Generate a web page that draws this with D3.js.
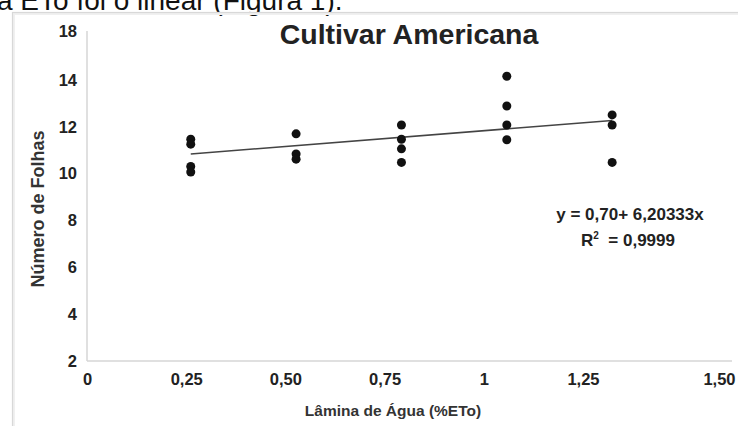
<!DOCTYPE html>
<html><head><meta charset="utf-8">
<script src="https://cdn.jsdelivr.net/npm/d3@7"></script>
<style>
html,body{margin:0;padding:0;background:#fff;overflow:hidden;}
svg{display:block;font-family:"Liberation Sans",Arial,sans-serif;}
</style></head>
<body>
<script>
// ---- data ----
const laminas = [0.25, 0.50, 0.75, 1.00, 1.25];
const folhas = [
  [11.47, 11.26, 10.31, 10.07],
  [11.70, 10.84, 10.62],
  [12.08, 11.47, 11.06, 10.48],
  [14.31, 12.89, 12.08, 11.45],
  [12.51, 12.08, 10.48]
];
const trendX = [0.25, 1.25];
const trendY = [10.84, 12.27];
const yTicks = [2, 4, 6, 8, 10, 12, 14, 18];
const xTicks = [0, 0.25, 0.50, 0.75, 1, 1.25, 1.50];
const xTickLabels = ["0", "0,25", "0,50", "0,75", "1", "1,25", "1,50"];
const titleText = "Cultivar Americana";
const xTitle = "Lâmina de Água (%ETo)";
const yTitle = "Número de Folhas";
const eqText = "y = 0,70+ 6,20333x";
const r2Text = "0,9999";
const topText = "a ETo foi o linear (Figura 1).";

const W = 738, H = 426;
const FONT = "Liberation Sans, Arial, sans-serif";
const svg = d3.select("body").append("svg").attr("width", W).attr("height", H);

// page text cut at top
svg.append("text").attr("x", -3).attr("y", 10).attr("font-size", 28)
  .attr("fill", "#111").text(topText);

// figure box
svg.append("rect").attr("x", 13.5).attr("y", 13.5).attr("width", 740).attr("height", 430)
  .attr("fill", "none").attr("stroke", "#f0f0f0").attr("stroke-width", 3);
svg.append("rect").attr("x", 12.5).attr("y", 12.5).attr("width", 740).attr("height", 430)
  .attr("fill", "none").attr("stroke", "#d8d8d8").attr("stroke-width", 1.2);

// scales
const x = d3.scaleLinear().domain([0, 1.5]).range([85.4, 717.5]);
const xLab = d3.scaleLinear().domain([0, 1.25, 1.5]).range([87, 583, 719]);
const y = d3.scaleLinear().domain([2, 14, 18]).range([361, 80, 31]);

// axis lines
svg.append("line").attr("x1", 87).attr("x2", 87).attr("y1", y(18)).attr("y2", y(2))
  .attr("stroke", "#d6d6d6").attr("stroke-width", 1.5);
svg.append("line").attr("x1", 87).attr("x2", 732).attr("y1", y(2)).attr("y2", y(2))
  .attr("stroke", "#d6d6d6").attr("stroke-width", 1.5);

// y axis labels
const yAxis = d3.axisLeft(y).tickValues(yTicks).tickSize(0).tickPadding(10).tickFormat(d => d);
const gy = svg.append("g").attr("transform", "translate(87,0)").call(yAxis);
gy.select(".domain").remove();
gy.selectAll("text").attr("font-size", 16.5).attr("font-weight", "bold").attr("fill", "#222")
  .attr("font-family", FONT);

// x axis labels
const xAxis = d3.axisBottom(xLab).tickValues(xTicks).tickSize(0).tickPadding(12)
  .tickFormat((d, i) => xTickLabels[i]);
const gx = svg.append("g").attr("transform", `translate(0,${y(2)})`).call(xAxis);
gx.select(".domain").remove();
gx.selectAll("text").attr("font-size", 16.5).attr("font-weight", "bold").attr("fill", "#222")
  .attr("font-family", FONT);

// titles
svg.append("text").attr("x", 409).attr("y", 44).attr("text-anchor", "middle")
  .attr("font-size", 28.5).attr("font-weight", "bold").attr("fill", "#222").text(titleText);
svg.append("text").attr("x", 393).attr("y", 416).attr("text-anchor", "middle")
  .attr("font-size", 15.5).attr("font-weight", "bold").attr("fill", "#333").text(xTitle);
svg.append("text").attr("transform", "translate(44,209) rotate(-90)").attr("text-anchor", "middle")
  .attr("font-size", 18).attr("font-weight", "bold").attr("fill", "#333").text(yTitle);

// trend line
svg.append("line").attr("x1", x(trendX[0])).attr("y1", y(trendY[0]))
  .attr("x2", x(trendX[1])).attr("y2", y(trendY[1]))
  .attr("stroke", "#444").attr("stroke-width", 1.6);

// points
const pts = [];
laminas.forEach((l, i) => folhas[i].forEach(v => pts.push([l, v])));
svg.append("g").selectAll("circle").data(pts).join("circle")
  .attr("cx", d => x(d[0])).attr("cy", d => y(d[1])).attr("r", 4.5).attr("fill", "#111");

// equation
svg.append("text").attr("x", 630).attr("y", 220).attr("text-anchor", "middle")
  .attr("font-size", 17).attr("font-weight", "bold").attr("fill", "#222").text(eqText);
const r2 = svg.append("text").attr("x", 628).attr("y", 246).attr("text-anchor", "middle")
  .attr("font-size", 17).attr("font-weight", "bold").attr("fill", "#222");
r2.append("tspan").text("R");
r2.append("tspan").attr("font-size", 10).attr("dy", -7).text("2");
r2.append("tspan").attr("dy", 7).text("\u00A0\u00A0=\u00A0" + r2Text);
</script>
</body></html>
